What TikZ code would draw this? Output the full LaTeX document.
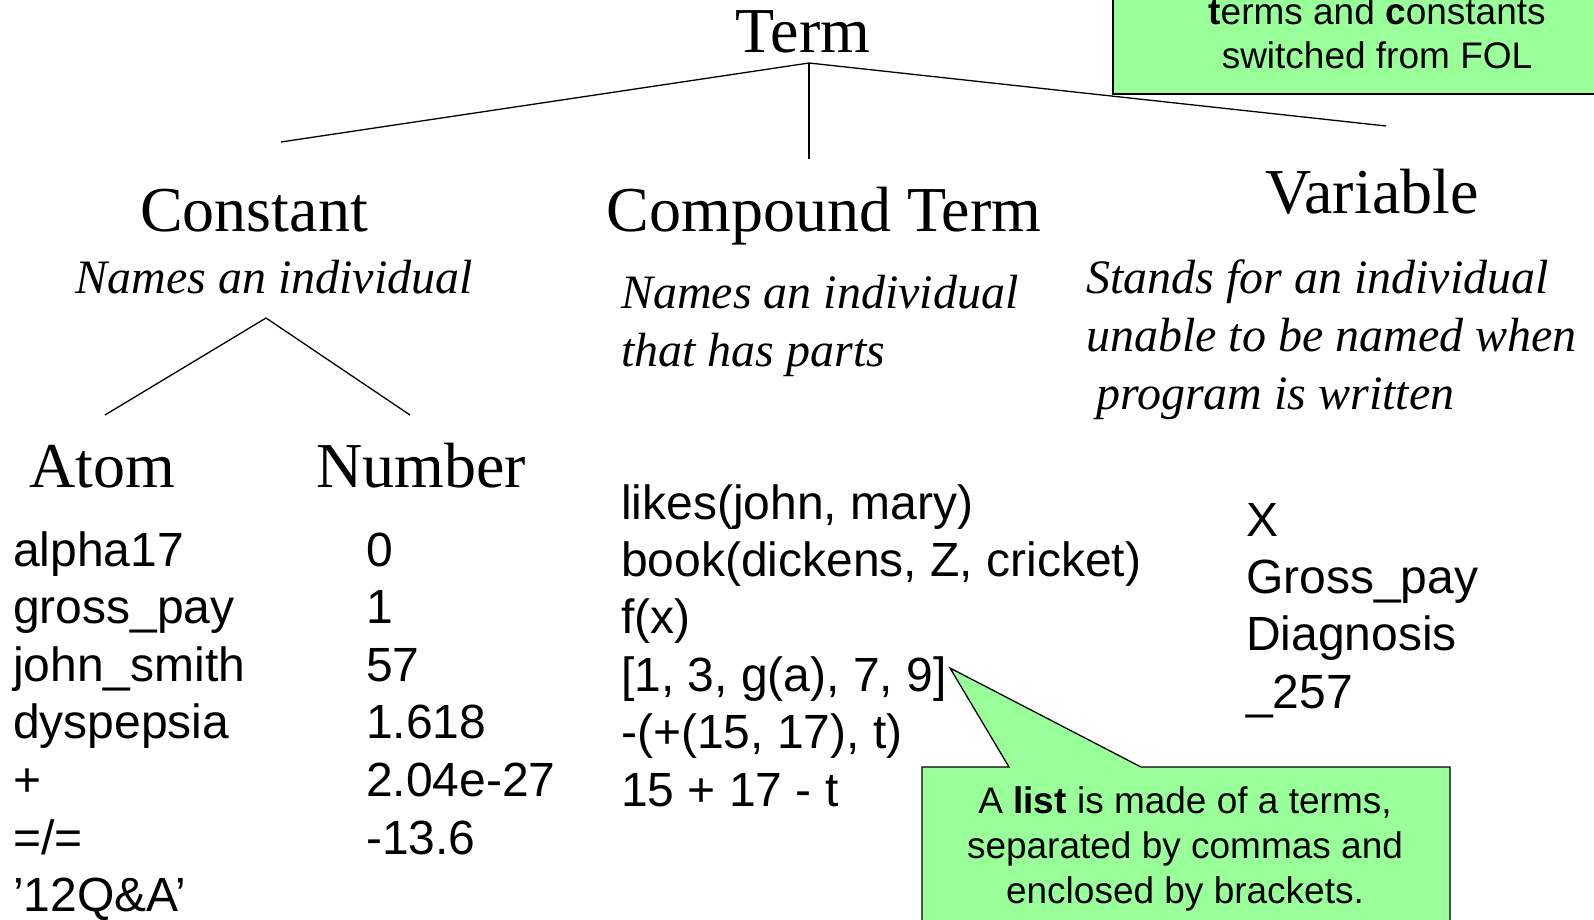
\documentclass[tikz,border=0pt]{standalone}
\usepackage{fontspec}
\setmainfont{Liberation Serif}
\newfontfamily\arial{Liberation Sans}
\definecolor{callgreen}{HTML}{99FF99}
\begin{document}
\begin{tikzpicture}[x=1pt,y=-1pt,
  heading/.style={inner sep=0pt,anchor=base,font=\fontsize{64}{76}\selectfont},
  desc/.style={inner sep=0pt,font=\fontsize{48}{57.6}\selectfont\itshape},
  item/.style={inner sep=0pt,anchor=base west,font=\arial\fontsize{48}{57.6}\selectfont},
  calltext/.style={inner sep=0pt,anchor=base,font=\arial\fontsize{37}{44}\selectfont},
  callout/.style={fill=callgreen,draw=black,line width=1.3pt},
  treeline/.style={line width=1.3pt}]
\useasboundingbox (0,0) rectangle (1594,920);
\clip (0,0) rectangle (1594,920);

% headings
\node[heading] (term) at (803,53) {Term};
\node[heading] (constant) at (254,231) {Constant};
\node[heading] (compound) at (824,231) {Compound Term};
\node[heading] (variable) at (1372,213) {Variable};
\node[heading] (atom) at (102,487) {Atom};
\node[heading] (number) at (421,487) {Number};

% descriptions
\node[desc,anchor=base] (cdesc) at (274,293) {Names an individual};
\node[desc,anchor=base west] (ctd1) at (621,308) {Names an individual};
\node[desc,anchor=base west] (ctd2) at (621,366) {that has parts};
\node[desc,anchor=base west] (vd1) at (1086,293) {Stands for an individual};
\node[desc,anchor=base west] (vd2) at (1086,351) {unable to be named when};
\node[desc,anchor=base west] (vd3) at (1096,409) {program is written};

% tree lines
\coordinate (tapex) at (809,63);
\coordinate (tleft) at (281,142);
\coordinate (tmid) at (809,159);
\coordinate (tright) at (1386,126);
\draw[treeline] (tleft) -- (tapex) -- (tright);
\draw[treeline] (tapex) -- (tmid);
\coordinate (capex) at (266,318);
\coordinate (cleft) at (105,415);
\coordinate (cright) at (410,415);
\draw[treeline] (cleft) -- (capex) -- (cright);

% atom list
\foreach \t [count=\i] in {alpha17,gross\_pay,john\_smith,dyspepsia,+,=/=,’12Q\&A’}
  \node[item] (atom\i) at (13,{566+57.6*(\i-1)}) {\t};
% number list
\foreach \t [count=\i] in {0,1,57,1.618,2.04e-27,-13.6}
  \node[item] (num\i) at (366,{566+57.6*(\i-1)}) {\t};
% compound list
\foreach \t [count=\i] in {{likes(john, mary)},{book(dickens, Z, cricket)},{f(x)},{[1, 3, g(a), 7, 9]},{-(+(15, 17), t)},{15 + 17 - t}}
  \node[item] (comp\i) at (621,{519+57.4*(\i-1)}) {\t};
% variable list
\foreach \t [count=\i] in {X,Gross\_pay,Diagnosis,\_257}
  \node[item] (var\i) at (1246,{536+57.4*(\i-1)}) {\t};

% top callout
\draw[callout] (1113,-10) rectangle (1660,94);
\node[calltext] (topc1) at (1377,25) {\textbf{t}erms and \textbf{c}onstants};
\node[calltext] (topc2) at (1377,69) {switched from FOL};

% bottom callout
\coordinate (tip) at (950,668);
\draw[callout] (922,767) -- (1009,767) -- (tip) -- (1141,767) -- (1450,767) -- (1450,940) -- (922,940) -- cycle;
\node[calltext] (bc1) at (1185,813) {A \textbf{list} is made of a terms,};
\node[calltext] (bc2) at (1185,858) {separated by commas and};
\node[calltext] (bc3) at (1185,903) {enclosed by brackets.};
\end{tikzpicture}
\end{document}
